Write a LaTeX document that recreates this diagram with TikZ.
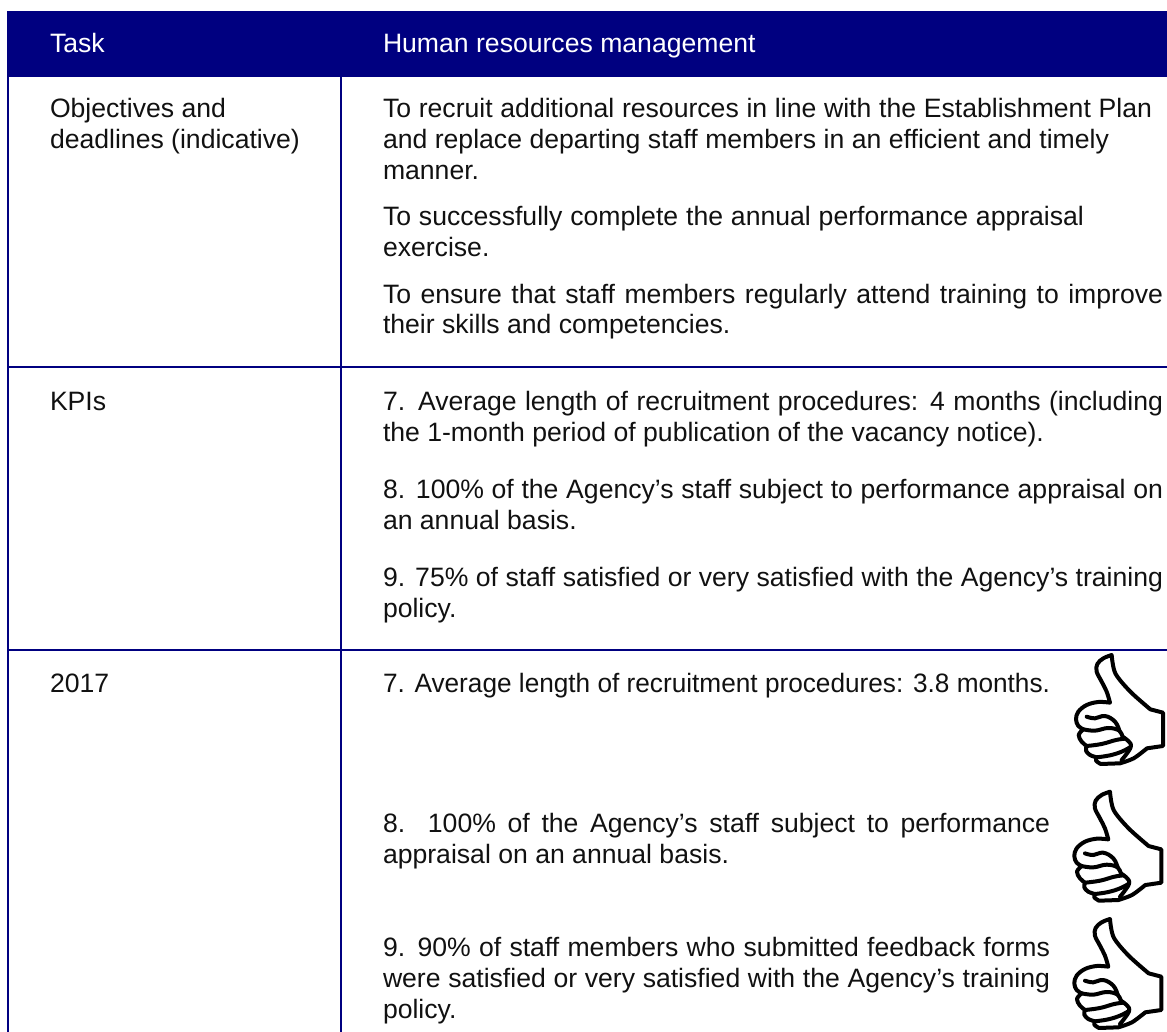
\documentclass[tikz,border=0pt]{standalone}
\usepackage{fontspec}
\usepackage{graphicx}
\setmainfont{Liberation Sans}
\definecolor{hdr}{HTML}{000080}
\definecolor{ink}{HTML}{111111}
\tikzset{
  x=1pt,y=-1pt,
  rule/.style={draw=hdr,line width=2pt},
  txt/.style={anchor=base west,inner sep=0pt,outer sep=0pt,text=ink,font=\fontsize{26.6}{31}\selectfont},
  htxt/.style={txt,text=white},
  thumbline/.style={draw=black,line width=4pt,line join=round,line cap=round},
  thumb/.pic={
    \begin{scope}[x=0.3333pt,y=-0.3333pt]
    \path[fill=white,thumbline] plot[smooth,tension=0.6] coordinates {(215,45) (190,55) (172,72) (170,95) (185,125) (200,155) (210,188)}
      -- plot[smooth,tension=0.6] coordinates {(210,188) (175,186) (140,195) (115,215) (108,238) (115,258) (130,268)}
      -- plot[smooth,tension=0.6] coordinates {(130,268) (116,285) (125,305) (140,318)}
      -- plot[smooth,tension=0.6] coordinates {(140,318) (138,332) (150,345) (170,352)}
      -- plot[smooth,tension=0.6] coordinates {(170,352) (168,362) (182,372)}
      -- (240,370)
      -- plot[smooth,tension=0.5] coordinates {(240,370) (281,355) (321,325)}
      -- (369,318) -- (369,218) -- (331,208)
      -- plot[smooth,tension=0.5] coordinates {(331,208) (271,155) (226,100) (215,45)} -- cycle;
    \draw[thumbline] plot[smooth,tension=0.7] coordinates {(140,230) (165,235) (195,228) (225,245) (238,272)};
    \draw[thumbline] plot[smooth,tension=0.7] coordinates {(130,268) (165,272) (205,264) (238,272) (248,290) (264,302) (272,322) (245,360)};
    \draw[thumbline] plot[smooth,tension=0.7] coordinates {(140,318) (185,312) (228,300) (256,296)};
    \draw[thumbline] plot[smooth,tension=0.7] coordinates {(170,352) (210,346) (245,335) (270,322)};
    \end{scope}
  }
}
\newcommand{\js}[2]{\makebox[#1][s]{#2}}
\newcommand{\sq}[2]{\scalebox{#1}[1]{#2}}
\begin{document}
\begin{tikzpicture}
\useasboundingbox (0,0) rectangle (1167,1032);
\fill[hdr] (7,11) rectangle (1167,77);
\draw[rule] (8,77) -- (8,1032);
\draw[rule] (341,77) -- (341,1032);
\draw[rule] (7,367) -- (1167,367);
\draw[rule] (7,650) -- (1167,650);

\node[htxt] (h1) at (50,53) {Task};
\node[htxt] (h2) at (383,53) {Human resources management};

\node[txt] (a1) at (50,118) {Objectives and};
\node[txt] (a2) at (50,149) {deadlines (indicative)};
\node[txt] (a3) at (50,410) {KPIs};
\node[txt] (a4) at (50,692) {2017};

\node[txt] (b1) at (383,118) {\js{769pt}{To recruit additional resources in line with the Establishment Plan}};
\node[txt] (b2) at (383,149) {\js{726pt}{and replace departing staff members in an efficient and timely}};
\node[txt] (b3) at (383,180) {manner.};
\node[txt] (b4) at (383,226) {\js{701pt}{To successfully complete the annual performance appraisal}};
\node[txt] (b5) at (383,257) {exercise.};
\node[txt] (b6) at (383,303) {\js{780pt}{To ensure that staff members regularly attend training to improve}};
\node[txt] (b7) at (383,334) {their skills and competencies.};

\node[txt] (c1) at (383,410) {\js{780pt}{7. Average length of recruitment procedures: 4 months (including}};
\node[txt] (c2) at (383,441) {the 1-month period of publication of the vacancy notice).};
\node[txt] (c3) at (383,498) {\js{780pt}{8. 100\% of the Agency’s staff subject to performance appraisal on}};
\node[txt] (c4) at (383,529) {an annual basis.};
\node[txt] (c5) at (383,586) {\js{780pt}{9. 75\% of staff satisfied or very satisfied with the Agency’s training}};
\node[txt] (c6) at (383,617) {policy.};

\node[txt] (d1) at (383,692) {\sq{0.985}{7. Average length of recruitment procedures: 3.8 months.}};
\node[txt] (d2) at (383,832) {\js{667pt}{8. 100\% of the Agency’s staff subject to performance}};
\node[txt] (d3) at (383,863) {appraisal on an annual basis.};
\node[txt] (d4) at (383,956) {\js{667pt}{9. 90\% of staff members who submitted feedback forms}};
\node[txt] (d5) at (383,987) {\js{667pt}{were satisfied or very satisfied with the Agency’s training}};
\node[txt] (d6) at (383,1018) {policy.};

\begin{scope}
\clip (0,0) rectangle (1167,1032);
\pic at (1040,640) {thumb};
\pic at (1038.3,776.7) {thumb};
\pic at (1038.3,904) {thumb};
\end{scope}
\end{tikzpicture}
\end{document}
